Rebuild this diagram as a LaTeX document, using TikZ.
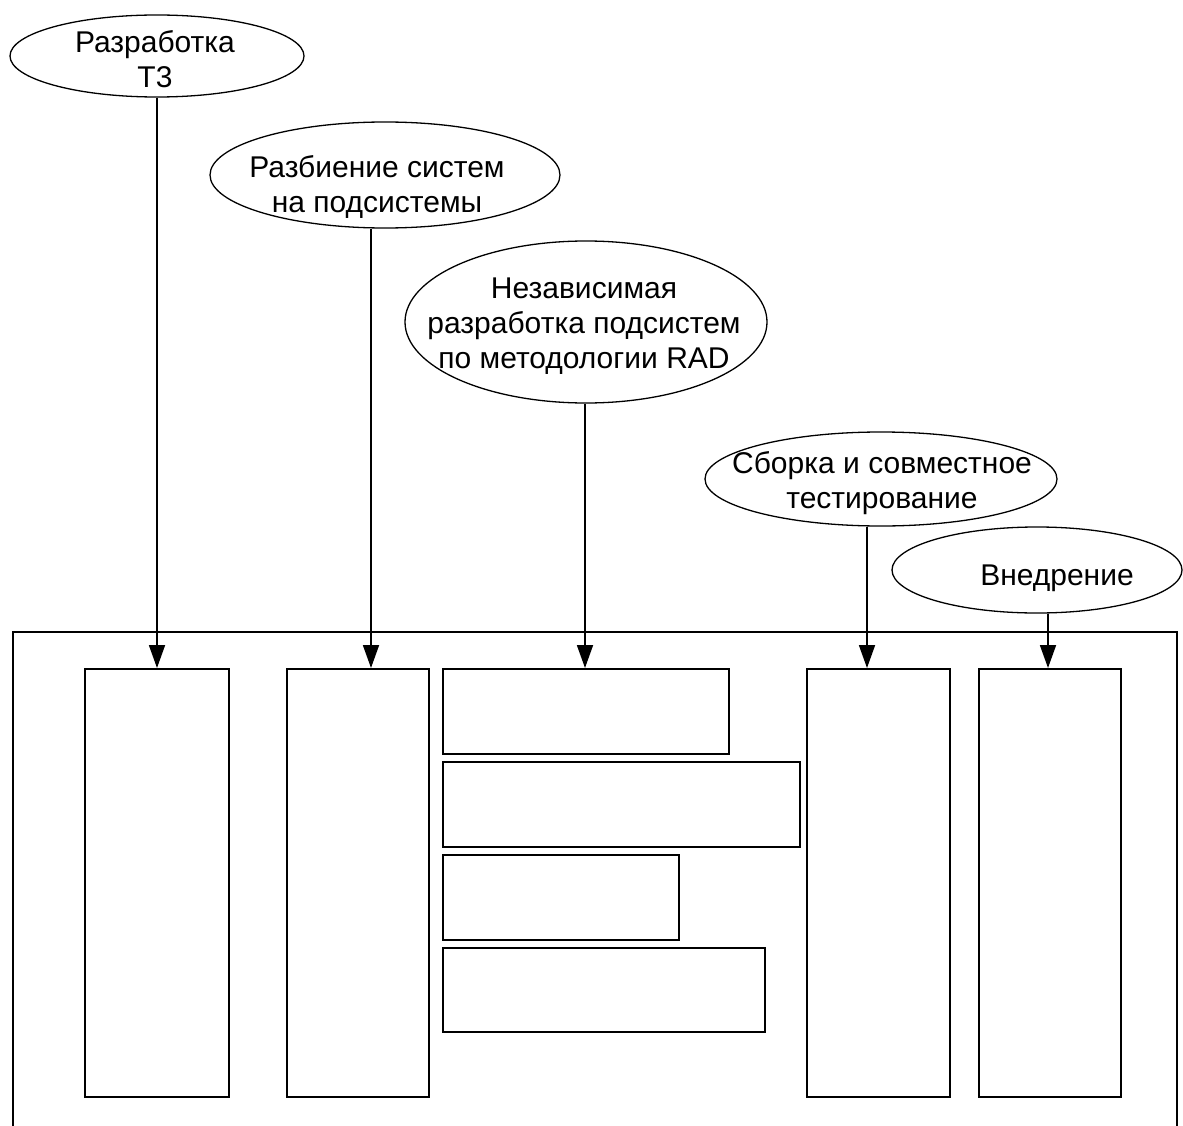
\documentclass[tikz,border=0pt]{standalone}
\usepackage{fontspec}
\setmainfont{Liberation Sans}
\usetikzlibrary{arrows.meta,shapes.geometric}
\begin{document}
\begin{tikzpicture}[x=1pt,y=-1pt,
  ell/.style={draw,line width=1.3pt,ellipse,inner sep=0pt},
  lbl/.style={align=center,inner sep=0pt,font=\fontsize{30}{35}\selectfont},
  blk/.style={draw,line width=1.6pt,rectangle,inner sep=0pt,anchor=north west},
  arr/.style={line width=1.8pt,-{Triangle[length=23pt,width=16pt]}},
  frame/.style={line width=1.3pt}]
\useasboundingbox (0,0) rectangle (1183,1126);
% outer frame (bottom edge lies below the picture)
\coordinate (fl) at (13,1140);
\coordinate (fr) at (1177,1140);
\draw[frame] (fl) -- (13,632) -- (1177,632) -- (fr);
% ellipses
\node[ell,minimum width=294pt,minimum height=82pt] (e1) at (157,56) {};
\node[ell,minimum width=350pt,minimum height=106pt] (e2) at (385,175) {};
\node[ell,minimum width=362pt,minimum height=162pt] (e3) at (586,322) {};
\node[ell,minimum width=352pt,minimum height=94pt] (e4) at (881,479) {};
\node[ell,minimum width=290pt,minimum height=86pt] (e5) at (1037,570) {};
% labels
\node[lbl] (l1) at (155,59.5) {Разработка\\Т3};
\node[lbl] (l2) at (377,186.5) {Разбиение систем\\на подсистемы};
\node[lbl] (l3) at (584,326) {Независимая\\разработка подсистем\\по методологии RAD};
\node[lbl] (l4) at (882,483) {Сборка и совместное\\тестирование};
\node[lbl] (l5) at (1057,578) {Внедрение};
% blocks
\node[blk,minimum width=144pt,minimum height=428pt] (b1) at (84,668) {};
\node[blk,minimum width=142pt,minimum height=428pt] (b2) at (286,668) {};
\node[blk,minimum width=286pt,minimum height=85pt] (h1) at (442,668) {};
\node[blk,minimum width=357pt,minimum height=85pt] (h2) at (442,761) {};
\node[blk,minimum width=236pt,minimum height=85pt] (h3) at (442,854) {};
\node[blk,minimum width=322pt,minimum height=84pt] (h4) at (442,947) {};
\node[blk,minimum width=143pt,minimum height=428pt] (b4) at (806,668) {};
\node[blk,minimum width=142pt,minimum height=428pt] (b5) at (978,668) {};
% arrow x positions
\coordinate (x1) at (157,0);
\coordinate (x2) at (371,0);
\coordinate (x3) at (585,0);
\coordinate (x4) at (867,0);
\coordinate (x5) at (1048,0);
\draw[arr] (x1 |- e1.south) -- (x1 |- b1.north);
\draw[arr] (x2 |- e2.south) -- (x2 |- b2.north);
\draw[arr] (x3 |- e3.south) -- (x3 |- h1.north);
\draw[arr] (x4 |- e4.south) -- (x4 |- b4.north);
\draw[arr] (x5 |- e5.south) -- (x5 |- b5.north);
\end{tikzpicture}
\end{document}
